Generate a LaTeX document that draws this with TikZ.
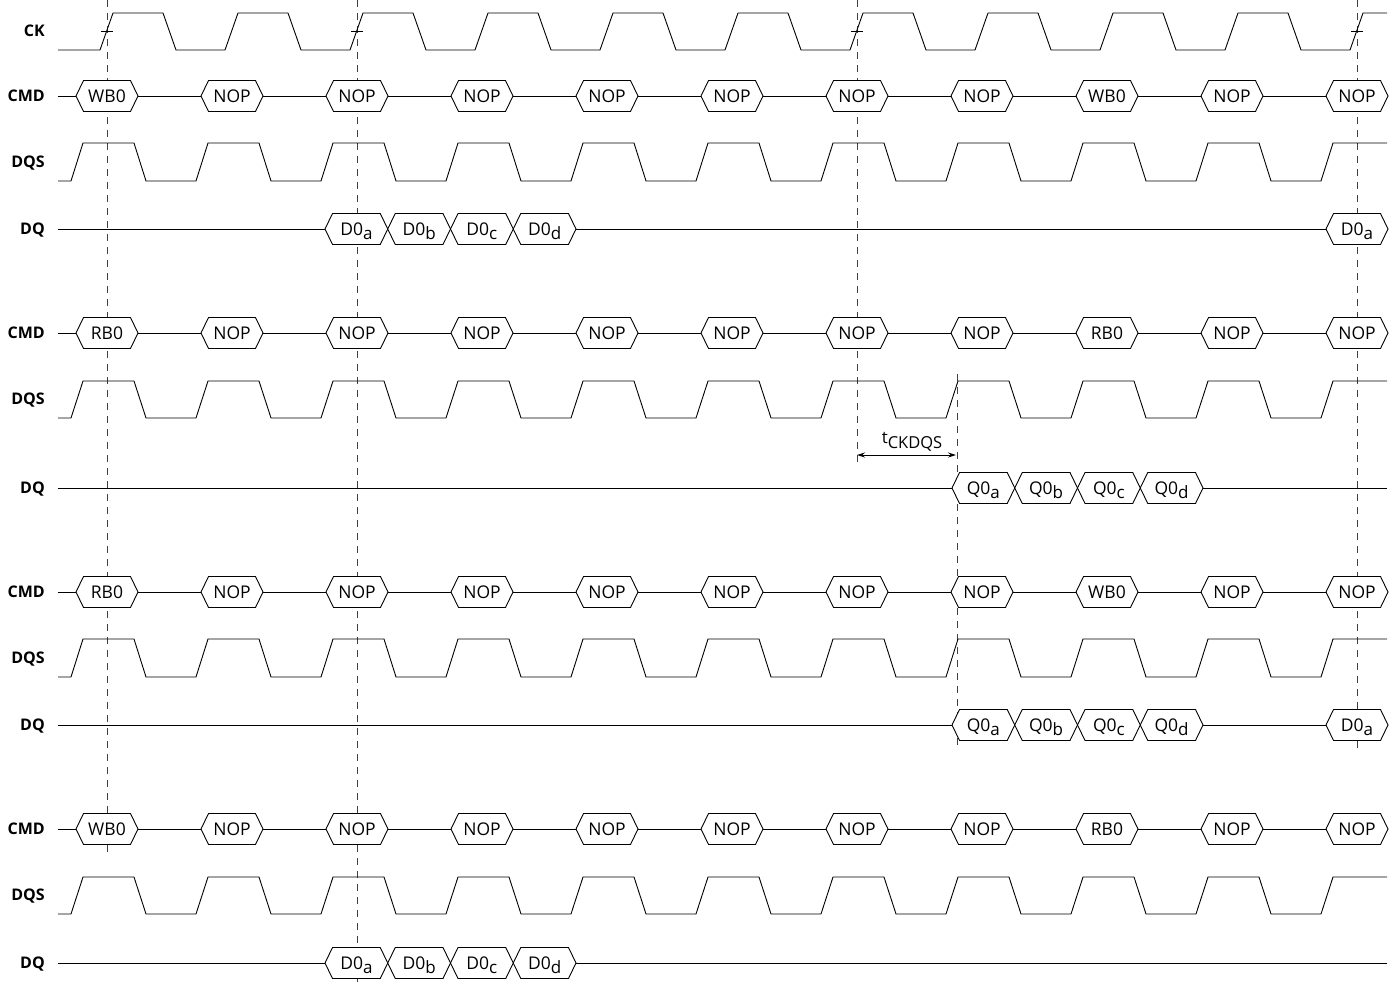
\documentclass[tikz,border=0pt]{standalone}
\usepackage{fontspec}
\setmainfont{Open Sans}
\usetikzlibrary{arrows.meta}
\newcounter{hexc}
\tikzset{
  wave/.style={line width=0.9pt, black, line join=miter},
  guide/.style={line width=0.9pt, dash pattern=on 7pt off 6pt, black!75},
  bus/.style={line width=0.9pt, black, fill=white, line join=miter},
  txt/.style={font=\fontsize{17.5}{19}\selectfont, anchor=base, inner sep=0pt},
  lbl/.style={font=\fontsize{16}{18}\selectfont\bfseries, anchor=base east, inner sep=0pt},
}
% #1 cx, #2 y, #3 half width, #4 label
\newcommand\hexb[4]{%
  \stepcounter{hexc}%
  \draw[bus] ({#1-#3},#2) -- ({#1-#3+7.5},{#2-15.5}) -- ({#1+#3-7.5},{#2-15.5})
     -- ({#1+#3},#2) -- ({#1+#3-7.5},{#2+15.5}) -- ({#1-#3+7.5},{#2+15.5}) -- cycle;
  \node[txt] (hx\arabic{hexc}) at (#1,{#2+6}) {#4};}
\newcommand\sub[1]{\raisebox{-4pt}{\fontsize{17}{18}\selectfont #1}}
% DQS waveform: #1 high y, #2 low y
\newcommand\dqswave[2]{%
  \draw[wave] (58,#2) \foreach \k in {0,...,9}{ -- ({71+125*\k},#2) -- ({83+125*\k},#1)
     -- ({134+125*\k},#1) -- ({146+125*\k},#2)} -- (1321,#2) -- (1333,#1) -- (1387,#1);}
% CMD row: #1 y, #2 first, #3 ninth command
\newcommand\cmdrow[3]{%
  \draw[wave] (58,#1) -- (1326,#1);
  \hexb{107}{#1}{31}{#2}
  \foreach \k in {1,...,7}{\hexb{107+125*\k}{#1}{31}{NOP}}
  \hexb{1107}{#1}{31}{#3}
  \hexb{1232}{#1}{31}{NOP}
  \hexb{1357}{#1}{31}{NOP}}
\newcommand\dchain[3]{% #1 start x (left point), #2 y, #3 letter
  \hexb{#1+31.375}{#2}{31.375}{#30\sub{a}}
  \hexb{#1+94.125}{#2}{31.375}{#30\sub{b}}
  \hexb{#1+156.875}{#2}{31.375}{#30\sub{c}}
  \hexb{#1+219.625}{#2}{31.375}{#30\sub{d}}}
\begin{document}
\begin{tikzpicture}[x=1pt,y=-1pt]
\useasboundingbox (0,0) rectangle (1398,985);
% guide lines
\draw[guide] (107,0) -- (107,858);
\draw[guide] (357,0) -- (357,985);
\draw[guide] (857,0) -- (857,462);
\draw[guide] (1357,0) -- (1357,748);
\draw[guide] (957,374) -- (957,750);
% labels
\node[lbl] (lck) at (45,36) {CK};
\node[lbl] (lcmd1) at (45,101) {CMD};
\node[lbl] (ldqs1) at (45,167) {DQS};
\node[lbl] (ldq1) at (45,234) {DQ};
\node[lbl] (lcmd2) at (45,338) {CMD};
\node[lbl] (ldqs2) at (45,404) {DQS};
\node[lbl] (ldq2) at (45,493) {DQ};
\node[lbl] (lcmd3) at (45,597) {CMD};
\node[lbl] (ldqs3) at (45,663) {DQS};
\node[lbl] (ldq3) at (45,730) {DQ};
\node[lbl] (lcmd4) at (45,834) {CMD};
\node[lbl] (ldqs4) at (45,900) {DQS};
\node[lbl] (ldq4) at (45,968) {DQ};
% CK
\draw[wave] (58,50) \foreach \k in {0,...,9}{ -- ({100+125*\k},50) -- ({113+125*\k},13)
   -- ({163+125*\k},13) -- ({176+125*\k},50)} -- (1350,50) -- (1363,13) -- (1387,13);
\foreach \x in {107,357,857,1357}{\draw[line width=0.9pt] ({\x-6},31) -- ({\x+6},31);}
% group 1
\cmdrow{96}{WB0}{WB0}
\dqswave{143}{181}
\draw[wave] (58,229) -- (1326,229);
\dchain{325}{229}{D}
\hexb{1357}{229}{31}{D0\sub{a}}
% group 2
\cmdrow{333}{RB0}{RB0}
\dqswave{381}{418}
\draw[wave] (58,488) -- (1387,488);
\dchain{952}{488}{Q}
\coordinate (ta) at (857,455);
\coordinate (tb) at (956,455);
\draw[line width=0.9pt, {Stealth[length=8pt,width=5pt]}-{Stealth[length=8pt,width=5pt]}] (ta) -- (tb);
\node[anchor=base, inner sep=0pt] (tck) at (912,443)
  {\fontsize{17}{18}\selectfont t\raisebox{-5pt}{\fontsize{16.5}{17}\selectfont CKDQS}};
% group 3
\cmdrow{592}{RB0}{WB0}
\dqswave{639}{677}
\draw[wave] (58,725) -- (1326,725);
\dchain{952}{725}{Q}
\hexb{1357}{725}{31}{D0\sub{a}}
% group 4
\cmdrow{829}{WB0}{RB0}
\dqswave{877}{914}
\draw[wave] (58,963) -- (1387,963);
\dchain{325}{963}{D}
\end{tikzpicture}
\end{document}
